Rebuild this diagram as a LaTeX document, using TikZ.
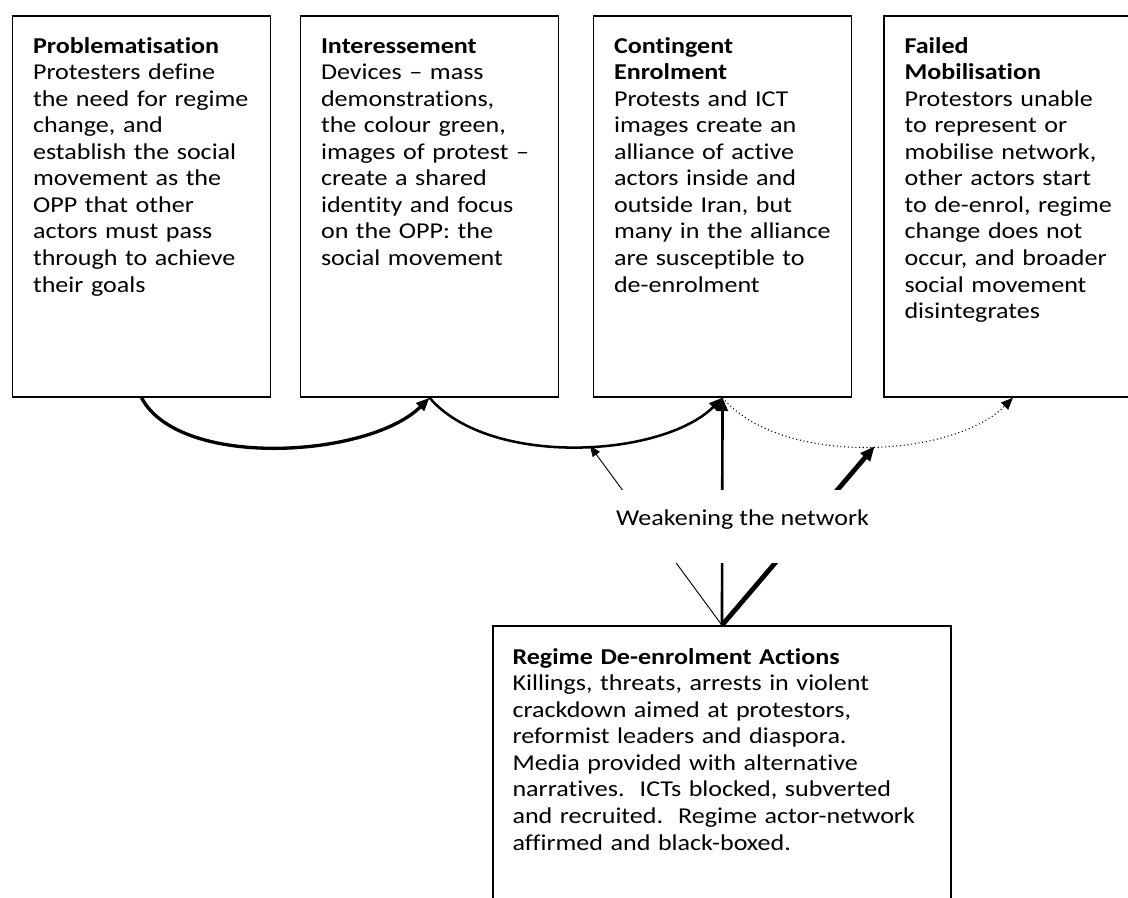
\documentclass[tikz,border=0pt]{standalone}
\usepackage{fontspec}
\setmainfont{Carlito}[Ligatures={NoCommon}, FakeStretch=1.15]
\usetikzlibrary{arrows.meta,calc}
\begin{document}
\begin{tikzpicture}[x=0.75pt,y=-0.75pt,
  stage/.style={draw, line width=1.1pt, minimum width=193.5pt, minimum height=285.75pt, inner sep=0pt},
  body/.style={inner sep=0pt, text width=#1, align=left, anchor=base west,
    font=\fontsize{17pt}{19.9pt}\selectfont},
  body/.default=200pt,
  lbl/.style={inner sep=0pt, fill=white, anchor=base, text height=26.25pt, text depth=28.5pt,
    minimum width=208pt, font=\fontsize{17pt}{19.9pt}\selectfont},
  tipbig/.style={-{Triangle[length=10pt,width=8pt]}},
  arcA/.style={tipbig, line width=2.5pt},
  arcB/.style={tipbig, line width=1.9pt},
  arcC/.style={-{Triangle[length=9pt,width=7.5pt]}, line width=0.8pt, dotted},
  weakthin/.style={-{Triangle[length=8pt,width=6.5pt]}, line width=0.7pt},
  weakmid/.style={-{Triangle[length=10pt,width=8pt]}, line width=2pt},
  weakthick/.style={-{Triangle[length=11pt,width=9pt]}, line width=3.6pt}
]
\useasboundingbox (0,0) rectangle (1128,898);
\clip (0,0) rectangle (1128,898);

% stage boxes
\node[stage] (b1) at (141.5,206.5) {};
\node[stage] (b2) at (429.5,206.5) {};
\node[stage] (b3) at (722.5,206.5) {};
\node[stage] (b4) at (1013,206.5) {};
\node[draw, line width=1.1pt, minimum width=343.5pt, minimum height=250.5pt, inner sep=0pt] (rb) at (722,793) {};

% texts
\node[body] (t1) at ($(b1.north west)+(21,38)$) {\textbf{Problematisation}\\
Protesters define\\
the need for regime\\
change, and\\
establish the social\\
movement as the\\
OPP that other\\
actors must pass\\
through to achieve\\
their goals};
\node[body] (t2) at ($(b2.north west)+(21,38)$) {\textbf{Interessement}\\
Devices – mass\\
demonstrations,\\
the colour green,\\
images of protest –\\
create a shared\\
identity and focus\\
on the OPP: the\\
social movement};
\node[body] (t3) at ($(b3.north west)+(21,38)$) {\textbf{Contingent}\\
\textbf{Enrolment}\\
Protests and ICT\\
images create an\\
alliance of active\\
actors inside and\\
outside Iran, but\\
many in the alliance\\
are susceptible to\\
de-enrolment};
\node[body] (t4) at ($(b4.north west)+(21,38)$) {\textbf{Failed}\\
\textbf{Mobilisation}\\
Protestors unable\\
to represent or\\
mobilise network,\\
other actors start\\
to de-enrol, regime\\
change does not\\
occur, and broader\\
social movement\\
disintegrates};
\node[body=330pt] (t5) at ($(rb.north west)+(20,39)$) {\textbf{Regime De-enrolment Actions}\\
Killings, threats, arrests in violent\\
crackdown aimed at protestors,\\
reformist leaders and diaspora.\\
Media provided with alternative\\
narratives.\ \ ICTs blocked, subverted\\
and recruited.\ \ Regime actor-network\\
affirmed and black-boxed.};

% translation arcs
\draw[arcA] (b1.south) .. controls +(38,72) and +(-60,60) .. (b2.south);
\draw[arcB] (b2.south) .. controls +(60,70) and +(-60,60) .. (b3.south) coordinate[pos=0.54] (m2);
\draw[arcC] (b3.south) .. controls +(60,70) and +(-60,60) .. (b4.south) coordinate[pos=0.52] (m3);

% weakening arrows
\draw[weakthin] (rb.north) -- (m2);
\draw[weakmid] (rb.north) -- (b3.south);
\draw[weakthick] (rb.north) -- (m3);

\node[lbl] (weak) at (742.5,525) {Weakening the network};
\end{tikzpicture}
\end{document}
